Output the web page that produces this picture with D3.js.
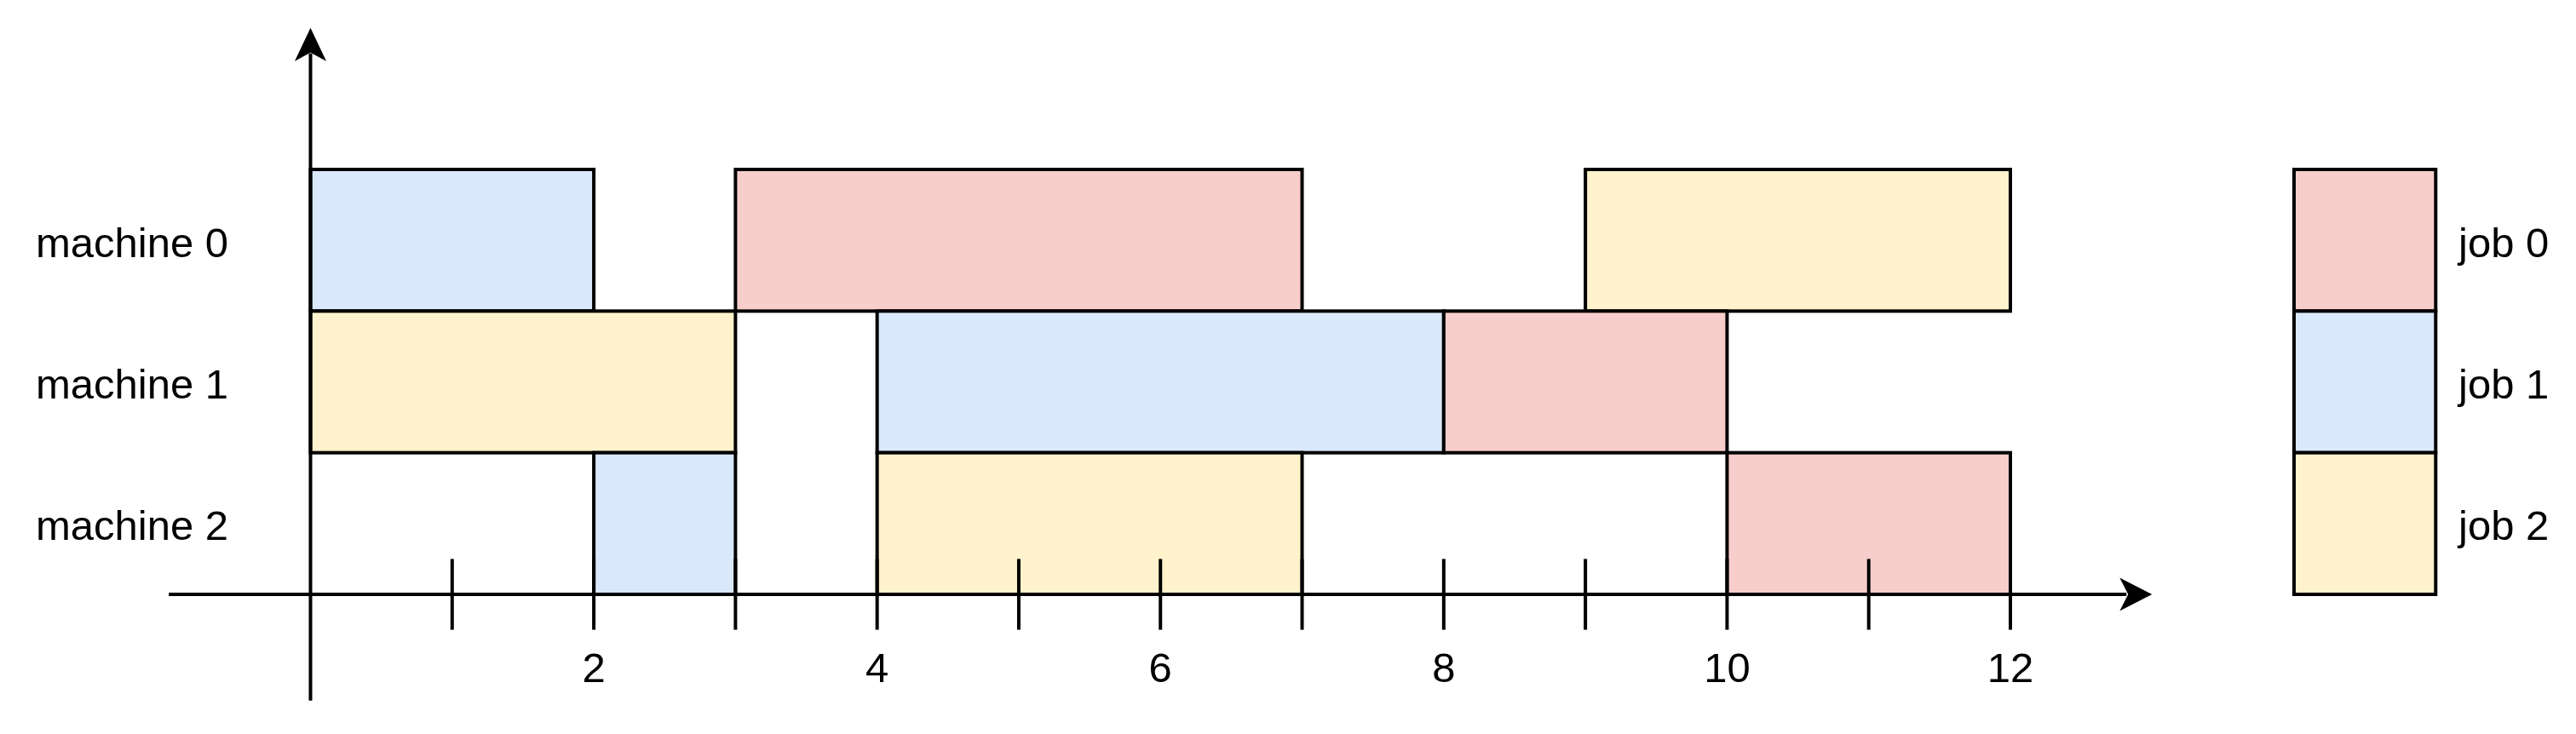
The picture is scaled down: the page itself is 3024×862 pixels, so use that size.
<!DOCTYPE html>
<html>
<head>
<meta charset="utf-8">
<script src="https://cdn.jsdelivr.net/npm/d3@7"></script>
<style>
    html, body { margin: 0; padding: 0; background: #fff; }
    svg { display: block; }
    text { font-family: "Liberation Sans", Arial, Helvetica, sans-serif; fill: #000; }
</style>
</head>
<body>
<div class="gantt-container"></div>
<script>
const machines = ["machine 0", "machine 1", "machine 2"];
const jobs = ["job 0", "job 1", "job 2"];
const jobColors = ["#f8cecc", "#dae8fc", "#fff2cc"];

// one entry per operation: machine index, job index, start, end
const opMachine = [0, 0, 0, 1, 1, 1, 2, 2, 2];
const opJob = [1, 0, 2, 2, 1, 0, 1, 2, 0];
const opStart = [0, 3, 9, 0, 4, 8, 2, 4, 10];
const opEnd = [2, 7, 12, 3, 8, 10, 3, 7, 12];

const tickValues = [1, 2, 3, 4, 5, 6, 7, 8, 9, 10, 11, 12];
const tickLabels = [2, 4, 6, 8, 10, 12];

const renderGantt = () => {
    const width = 3024;
    const height = 862;
    const stroke = 4;
    const fontSize = 49;

    const svg = d3.select(".gantt-container")
        .append("svg")
        .attr("width", width)
        .attr("height", height);

    const x = d3.scaleLinear()
        .domain([0, 12])
        .range([364.5, 2360]);
    const unit = x(1) - x(0);

    const y = d3.scaleBand()
        .domain(machines)
        .range([199, 698]);
    const axisY = y.range()[1];

    const ops = opMachine.map((m, i) => ({
        machine: machines[m],
        job: opJob[i],
        start: opStart[i],
        end: opEnd[i]
    }));

    svg.append("g")
        .attr("class", "ops")
        .selectAll("rect")
        .data(ops)
        .enter()
        .append("rect")
        .attr("x", d => x(d.start))
        .attr("y", d => y(d.machine))
        .attr("width", d => x(d.end) - x(d.start))
        .attr("height", y.bandwidth())
        .attr("fill", d => jobColors[d.job])
        .attr("stroke", "#000")
        .attr("stroke-width", stroke);

    svg.append("g")
        .attr("class", "machine-labels")
        .selectAll("text")
        .data(machines)
        .enter()
        .append("text")
        .attr("x", 42)
        .attr("y", d => y(d) + y.bandwidth() / 2)
        .attr("dy", "0.4em")
        .attr("font-size", fontSize)
        .text(d => d);

    // axes, drawn over the bars like in the drawing
    const axes = svg.append("g").attr("class", "axes");

    axes.append("line")
        .attr("x1", x(-1))
        .attr("x2", x(13) - 30)
        .attr("y1", axisY)
        .attr("y2", axisY)
        .attr("stroke", "#000")
        .attr("stroke-width", stroke);

    axes.append("line")
        .attr("x1", x(0))
        .attr("x2", x(0))
        .attr("y1", axisY + unit * 0.75)
        .attr("y2", axisY - unit * 4 + 30)
        .attr("stroke", "#000")
        .attr("stroke-width", stroke);

    // drawio style "classic" arrow heads
    const tipX = x(13);
    axes.append("path")
        .attr("d", `M${tipX},${axisY} L${tipX - 38},${axisY - 19.5} L${tipX - 28},${axisY} L${tipX - 38},${axisY + 19.5} Z`)
        .attr("fill", "#000");

    const tipY = axisY - unit * 4;
    axes.append("path")
        .attr("d", `M${x(0)},${tipY} L${x(0) - 18.5},${tipY + 39} L${x(0)},${tipY + 29} L${x(0) + 18.5},${tipY + 39} Z`)
        .attr("fill", "#000");

    axes.selectAll(".tick")
        .data(tickValues)
        .enter()
        .append("line")
        .attr("class", "tick")
        .attr("x1", d => x(d))
        .attr("x2", d => x(d))
        .attr("y1", axisY - unit / 4)
        .attr("y2", axisY + unit / 4)
        .attr("stroke", "#000")
        .attr("stroke-width", stroke);

    axes.selectAll(".tick-label")
        .data(tickLabels)
        .enter()
        .append("text")
        .attr("class", "tick-label")
        .attr("x", d => x(d))
        .attr("y", axisY + 103)
        .attr("text-anchor", "middle")
        .attr("font-size", fontSize)
        .text(d => d);

    // legend
    const legendX = 2693;
    const ly = d3.scaleBand()
        .domain(jobs)
        .range(y.range());

    const legend = svg.append("g").attr("class", "legend");

    legend.selectAll("rect")
        .data(jobs)
        .enter()
        .append("rect")
        .attr("x", legendX)
        .attr("y", d => ly(d))
        .attr("width", unit)
        .attr("height", ly.bandwidth())
        .attr("fill", (d, i) => jobColors[i])
        .attr("stroke", "#000")
        .attr("stroke-width", stroke);

    legend.selectAll("text")
        .data(jobs)
        .enter()
        .append("text")
        .attr("x", 2886)
        .attr("y", d => ly(d) + ly.bandwidth() / 2)
        .attr("dy", "0.4em")
        .attr("font-size", fontSize)
        .text(d => d);
}

renderGantt();
</script>
</body>
</html>
